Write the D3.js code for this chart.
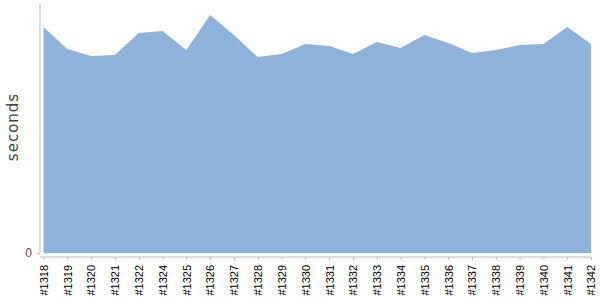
<!DOCTYPE html>
<html><head><meta charset="utf-8">
<script src="https://cdn.jsdelivr.net/npm/d3@7"></script>
<style>body{margin:0;background:#fff;}svg{display:block;font-family:"DejaVu Sans",sans-serif;}</style>
</head><body><svg id="c" width="600" height="300"></svg>
<script>
const builds = ["#1318","#1319","#1320","#1321","#1322","#1324","#1325","#1326","#1327","#1328","#1329","#1330","#1331","#1332","#1333","#1334","#1335","#1336","#1337","#1338","#1339","#1340","#1341","#1342"];
const seconds = [226,204,197,198,220,222,203,238,218,196,199,209,207,199,211,205,218,210,200,203,208,209,226,209];
const yTicks = [0];

const svg = d3.select("#c");
const x = d3.scalePoint().domain(builds).range([43.5, 591]);
const y = d3.scaleLinear().domain([0, 250]).range([253, 3]);
const data = builds.map((b,i)=>({b, v:seconds[i]}));

svg.append("path").datum(data)
  .attr("fill","#8fb2da")
  .attr("d", d3.area().x(d=>x(d.b)).y0(y(0)).y1(d=>y(d.v)));

// y axis
const ya = svg.append("g").attr("transform","translate(40,0)")
  .call(d3.axisLeft(y).tickValues(yTicks).tickSize(3).tickPadding(5));
ya.select(".domain").attr("stroke","#bbb").attr("d","M0,4V253");
ya.selectAll(".tick line").attr("stroke","#bbb");
ya.selectAll(".tick text").attr("fill","#555").attr("font-size",12);

// x axis
const xa = svg.append("g").attr("transform","translate(0,257)")
  .call(d3.axisBottom(x).tickSize(3).tickPadding(2));
xa.select(".domain").attr("stroke","#bbb").attr("d","M40,0H591");
xa.selectAll(".tick line").attr("stroke","#bbb");
xa.selectAll(".tick text").attr("fill","#000").attr("font-size",11)
  .attr("transform","rotate(-90)").attr("text-anchor","end")
  .attr("x",-8).attr("y",0).attr("dy","0.35em");

svg.append("text").attr("transform","translate(18,127) rotate(-90)")
  .attr("text-anchor","middle").attr("fill","#444").attr("font-size",15)
  .attr("letter-spacing",1)
  .text("seconds");
</script></body></html>
